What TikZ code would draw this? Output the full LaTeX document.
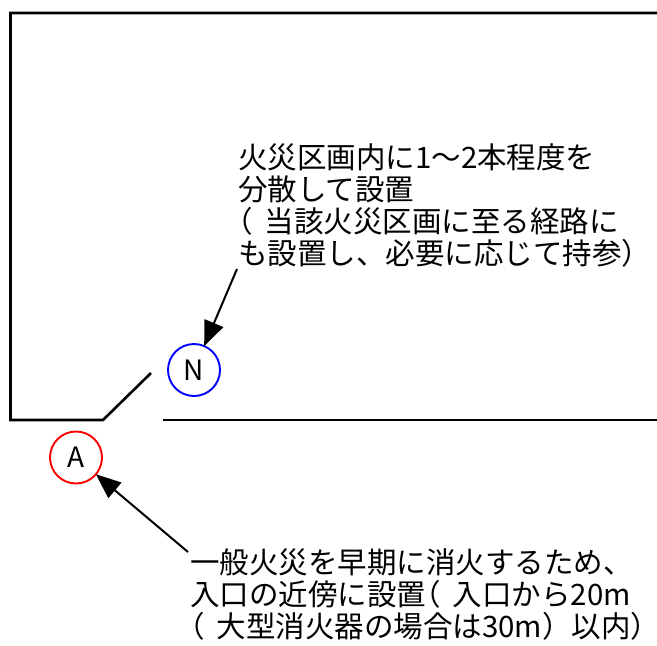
\documentclass[tikz,border=0pt]{standalone}
\usepackage{fontspec}
\setmainfont{Noto Sans CJK JP}
\usetikzlibrary{arrows.meta}
\newcommand{\lpar}{\makebox[0.9em][l]{\addfontfeature{RawFeature=+halt}（}}
\tikzset{
  wall/.style={line width=2.6pt, line cap=butt},
  ext/.style={circle, line width=1.9pt, minimum size=52pt, inner sep=0pt, font=\fontsize{28}{28}\selectfont},
  arr/.style={line width=2pt, -{Triangle[length=25pt,width=20pt]}, shorten >=-1pt},
  note/.style={anchor=base west, align=left, inner sep=0pt, font=\fontsize{29.5}{32}\selectfont}
}
\begin{document}
\begin{tikzpicture}[x=1pt,y=-1pt]
\useasboundingbox (0,0) rectangle (657,646);
% room
\draw[wall] (657,13) -- (10.5,13) -- (10.5,420) -- (103,420) -- (151,373);
\draw[wall] (163,420) -- (657,420);
% extinguishers
\node[ext, draw=blue] (N) at (194,370) {N};
\node[ext, draw=red] (A) at (76,457.5) {A};
% notes (anchor = baseline of the last line)
\node[note] (t1) at (238,264) {火災区画内に1～2本程度を\\分散して設置\\\lpar 当該火災区画に至る経路に\\も設置し、必要に応じて持参）};
\node[note] (t2) at (190,637) {一般火災を早期に消火するため、\\入口の近傍に設置\lpar 入口から20m\\\lpar 大型消火器の場合は30m）以内）};
\coordinate (s1) at (237,269);
\coordinate (s2) at (188,552);
\draw[arr] (s1) -- (N);
\draw[arr] (s2) -- (A);
\end{tikzpicture}
\end{document}
